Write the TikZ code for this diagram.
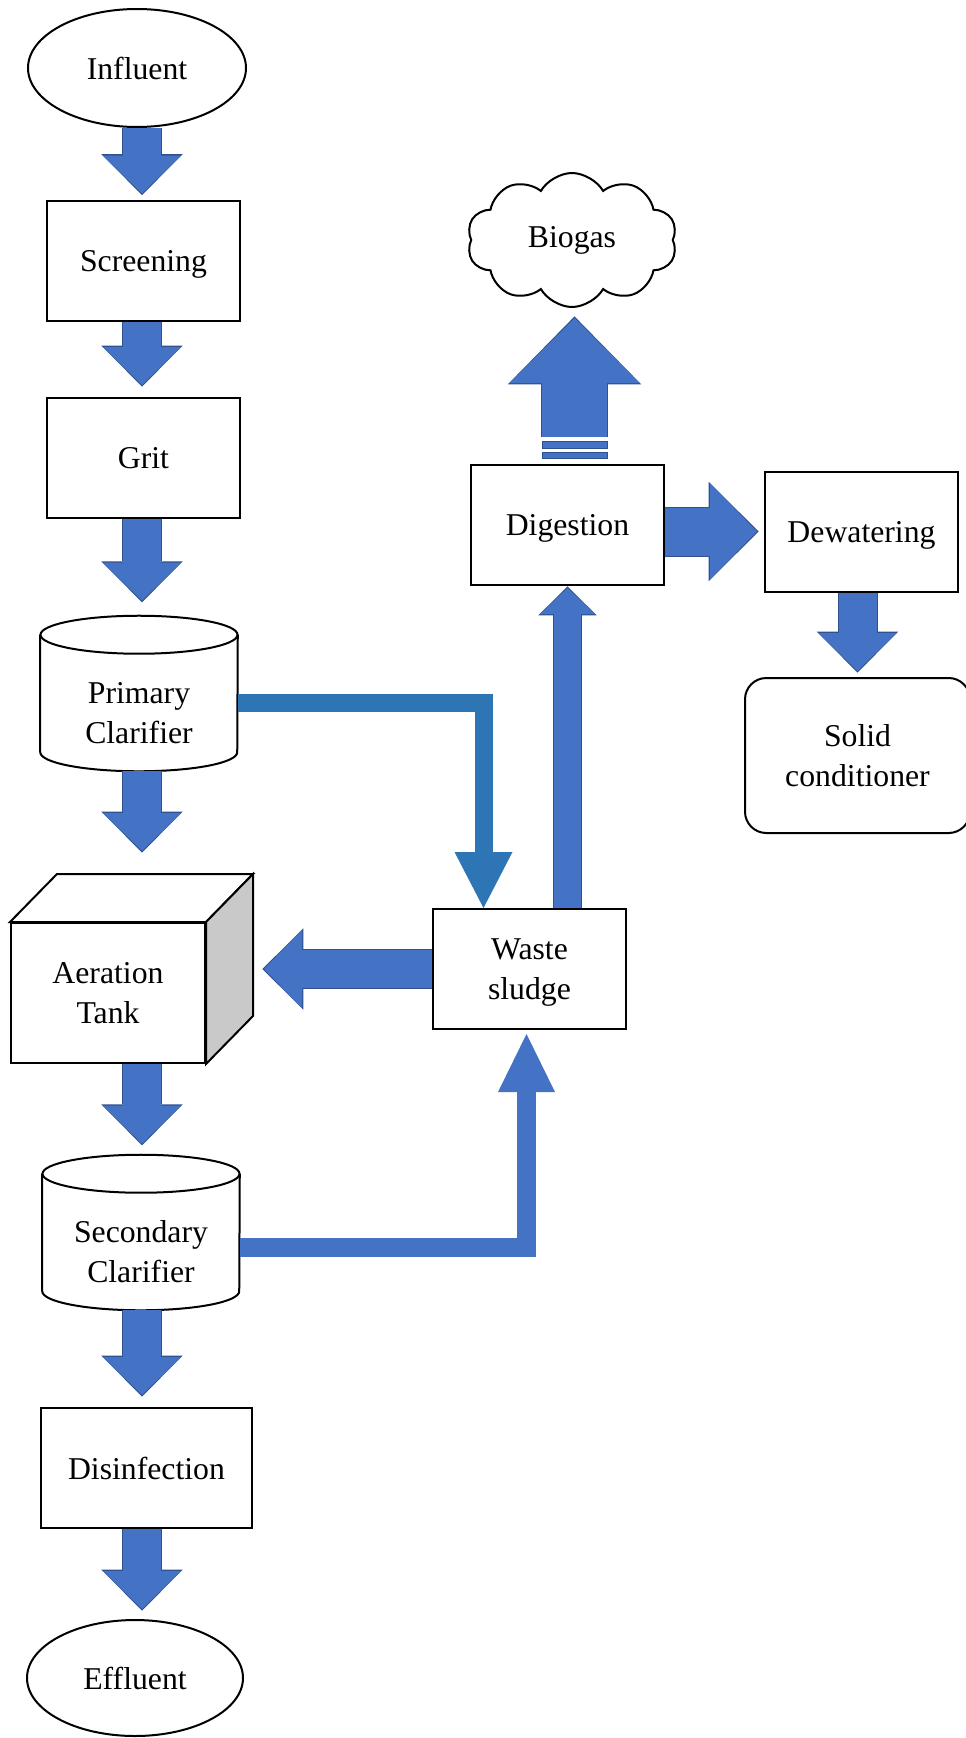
\documentclass[tikz,border=0pt]{standalone}
\usepackage{fontspec}
\setmainfont{Liberation Serif}
\usetikzlibrary{arrows.meta}
\usetikzlibrary{calc}
\usetikzlibrary{shapes.geometric}
\usetikzlibrary{shapes.symbols}
\definecolor{flowblue}{RGB}{68,114,196}
\definecolor{flowedge}{RGB}{47,82,143}
\definecolor{pipeblue}{RGB}{46,117,182}
\definecolor{tankside}{RGB}{201,201,201}

\begin{document}
\begin{tikzpicture}[x=0.75pt,y=0.75pt,yscale=-1,xscale=1,
  every node/.style={font=\fontsize{23.8}{30}\selectfont, align=center, inner sep=0pt},
  rim/.style={line width=1.5pt},
  proc/.style={draw, rim, fill=white, text depth=0pt, minimum width=144.75pt, minimum height=90pt},
  term/.style={draw, rim, ellipse, minimum width=163.5pt, minimum height=88.5pt},
  tank/.style={text depth=0pt, minimum width=147.75pt, minimum height=87.75pt},
  flowstd/.style={draw=flowblue, line width=28.5pt,
    -{Triangle[width=58.5pt 0 0, length=28.5pt 0 0, line width=0pt 0]},
    preaction={draw=flowedge, line width=30pt, shorten >=-1.2pt,
      -{Triangle[width=61pt 0 0, length=30.7pt 0 0, line width=0pt 0]}}},
  flowthin/.style={draw=flowblue, line width=20.25pt,
    -{Triangle[width=41.25pt 0 0, length=19.5pt 0 0, line width=0pt 0]},
    preaction={draw=flowedge, line width=21.75pt, shorten >=-1.2pt,
      -{Triangle[width=43.75pt 0 0, length=21.7pt 0 0, line width=0pt 0]}}},
  flowwide/.style={draw=flowblue, line width=36pt,
    -{Triangle[width=72pt 0 0, length=35.25pt 0 0, line width=0pt 0]},
    preaction={draw=flowedge, line width=37.5pt, shorten >=-1.2pt,
      -{Triangle[width=74.5pt 0 0, length=37.45pt 0 0, line width=0pt 0]}}},
  flowgas/.style={draw=flowblue, line width=48.75pt,
    -{Triangle[width=97.5pt 0 0, length=48.75pt 0 0, line width=0pt 0]},
    preaction={draw=flowedge, line width=50.25pt, shorten >=-1.2pt,
      -{Triangle[width=100pt 0 0, length=50.95pt 0 0, line width=0pt 0]}}},
  pipe/.style n args={4}{draw=#1, line width=#2,
    -{Triangle[width=#3 0 0, length=#4 0 0, line width=0pt 0]}},
  stripe/.style={fill=flowblue, draw=flowedge, line width=0.75pt},
]
\useasboundingbox (0,0) rectangle (966,1738);

%Main line
\node[term] (inf) at (137,68) {Influent};
\node[proc] (scr) at (143.5,260.5) {Screening};
\node[proc] (grit) at (143.5,458) {Grit};
\node[tank] (pc) at (139,712.5) {Primary\\Clarifier};
\node[proc, minimum width=145.5pt, minimum height=105pt] (aer) at (108,993) {Aeration\\Tank};
\node[tank] (sc) at (141,1251.5) {Secondary\\Clarifier};
\node[proc, minimum width=158.25pt] (dis) at (146.5,1468) {Disinfection};
\node[term, minimum width=162pt, minimum height=87pt] (eff) at (135,1678) {Effluent};

%Sludge line
\node[proc] (ws) at (529.5,969) {Waste\\sludge};
\node[proc] (dig) at (567.5,525) {Digestion};
\node[proc] (dew) at (861.5,531.5) {Dewatering};
\node[draw, rim, rounded corners=16pt, text depth=-5pt, minimum width=168.75pt, minimum height=116.25pt] (sol) at (857.5,755.5) {Solid\\conditioner};
\node[cloud, draw, rim, cloud puffs=10, cloud puff arc=120, aspect=1.57, minimum width=157.5pt, minimum height=100.5pt] (gas) at (572,240) {Biogas};

%Shape: Cylinders
\draw[rim] ($(pc.north)+(0,-19)$) ellipse [x radius=98.5, y radius=19];
\draw[rim] ($(pc.north west)+(0,-19)$) -- ($(pc.south west)+(0,-19)$)
  arc [start angle=180, end angle=0, x radius=98.5, y radius=19] -- ($(pc.north east)+(0,-19)$);
\draw[rim] ($(sc.north)+(0,-19)$) ellipse [x radius=98.5, y radius=19];
\draw[rim] ($(sc.north west)+(0,-19)$) -- ($(sc.south west)+(0,-19)$)
  arc [start angle=180, end angle=0, x radius=98.5, y radius=19] -- ($(sc.north east)+(0,-19)$);

%Shape: Cube
\coordinate (aerside) at ($(aer.north east)+(47,-48)$);
\filldraw[rim, fill=white] (aer.north west) -- ($(aer.north west)+(47,-48)$) -- (aerside) -- (aer.north east) -- cycle;
\filldraw[rim, fill=tankside] (aer.north east) -- (aerside) -- ($(aer.south east)+(47,-48)$) -- (aer.south east) -- cycle;

%Block Arrows
\coordinate (lane) at (142,0);
\draw[flowstd] (inf.south -| lane) -- ($(scr.north -| lane)+(0,-6)$);
\draw[flowstd] (scr.south -| lane) -- ($(grit.north -| lane)+(0,-12)$);
\draw[flowstd] (grit.south -| lane) -- ($(pc.north -| lane)+(0,-53)$);
\draw[flowstd] (pc.south -| lane) -- ($(aerside -| lane)+(0,-23)$);
\draw[flowstd] (aer.south -| lane) -- ($(sc.north -| lane)+(0,-49)$);
\draw[flowstd] (sc.south -| lane) -- ($(dis.north -| lane)+(0,-12)$);
\draw[flowstd] (dis.south -| lane) -- ($(eff.north -| lane)+(0,-10)$);

\draw[flowstd] (ws.west) -- ($(ws.west -| aerside)+(11,0)$);
\draw[flowthin] (ws.north -| dig.south) -- ($(dig.south)+(0,2)$);
\draw[flowwide] (dig.east |- dew.west) -- ($(dew.west)+(-7,0)$);
\draw[flowstd] (dew.south -| sol.north) -- ($(sol.north)+(0,-6)$);

%Elbow Arrows
\draw[pipe={pipeblue}{13.5pt}{43.5pt}{42pt}] ($(pc.east)+(0,-9.5)$) -| ($(ws.north)+(-46,0)$);
\draw[pipe={flowblue}{14.25pt}{42.75pt}{43.5pt}] ($(sc.east)+(0,-4)$) -| ($(ws.south)+(-3,4)$);

%Striped Arrow
\coordinate (gasfoot) at ($(dig.north)+(7,-27)$);
\draw[flowgas] (gasfoot) -- ($(gas.center)+(2.5,78)$);
\filldraw[stripe] ($(gasfoot)+(-32.5,4)$) rectangle ++(65,7);
\filldraw[stripe] ($(gasfoot)+(-32.5,15)$) rectangle ++(65,6);

\end{tikzpicture}
\end{document}
